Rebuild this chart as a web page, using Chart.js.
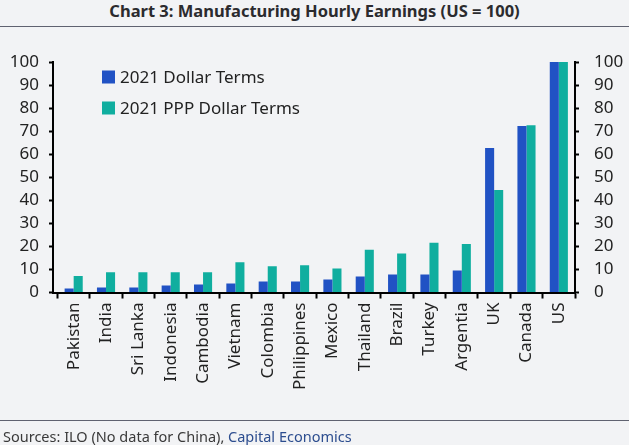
<!DOCTYPE html>
<html>
<head>
<meta charset="utf-8">
<script src="https://cdn.jsdelivr.net/npm/chart.js@4.4.1/dist/chart.umd.min.js"></script>
<style>
    html, body { margin: 0; padding: 0; background: #f2f3f5; }
    body { width: 629px; height: 445px; position: relative; overflow: hidden; font-family: "Noto Sans", sans-serif; }
    #title { position: absolute; top: 1px; left: 0; width: 629px; text-align: center; font-weight: bold; font-size: 16.5px; line-height: 20px; color: #2b2b2e; }
    #title-rule { position: absolute; top: 26px; left: 0; width: 629px; height: 0; border-top: 1.5px solid #5f6270; }
    #foot-rule { position: absolute; top: 420px; left: 0; width: 629px; height: 0; border-top: 1.5px solid #5f6270; }
    #source { position: absolute; top: 427px; left: 3px; font-size: 14.5px; line-height: 18px; color: #3a3a3a; white-space: nowrap; }
    #source span { color: #2c4d8f; }
    #chart-wrap { position: absolute; top: 0; left: 0; width: 629px; height: 445px; }
</style>
</head>
<body>
<div id="title">Chart 3: Manufacturing Hourly Earnings (US = 100)</div>
<div id="title-rule"></div>
<div id="chart-wrap"><canvas id="chart"></canvas></div>
<div id="foot-rule"></div>
<div id="source">Sources: ILO (No data for China), <span>Capital Economics</span></div>
<script>
const countries = ['Pakistan', 'India', 'Sri Lanka', 'Indonesia', 'Cambodia', 'Vietnam', 'Colombia',
    'Philippines', 'Mexico', 'Thailand', 'Brazil', 'Turkey', 'Argentia', 'UK', 'Canada', 'US'];
const dollarTerms = [1.7, 2.2, 2.2, 3.0, 3.5, 3.9, 4.8, 4.8, 5.6, 6.9, 7.8, 7.8, 9.5, 62.7, 72.2, 100];
const pppTerms = [7.2, 8.8, 8.8, 8.8, 8.8, 13.1, 11.4, 11.8, 10.4, 18.5, 16.9, 21.6, 21.1, 44.5, 72.6, 100];
const yTicks = [0, 10, 20, 30, 40, 50, 60, 70, 80, 90, 100];

(function() {
    const font = { family: 'Noto Sans', size: 17 };
    const ink = '#222';

    // legend sits inside the plot, top left
    const innerLegend = {
        id: 'innerLegend',
        afterDraw(chart) {
            const ctx = chart.ctx;
            ctx.save();
            ctx.font = '17px "Noto Sans"';
            ctx.textBaseline = 'middle';
            chart.data.datasets.forEach((ds, i) => {
                const y = 77 + i * 31;
                ctx.fillStyle = ds.backgroundColor;
                ctx.fillRect(102, y - 6.5, 13, 13);
                ctx.fillStyle = ink;
                ctx.fillText(ds.label, 120, y + 1);
            });
            ctx.restore();
        }
    };

    // categories start a few px right of the left axis line
    const categoryInset = {
        id: 'categoryInset',
        afterLayout(chart) {
            const x = chart.scales.x;
            x._startPixel += 4.5;
            x._length -= 4.5;
        }
    };

    const yAxis = (position, width) => ({
        position: position,
        min: 0,
        max: 100,
        afterBuildTicks: (axis) => { axis.ticks = yTicks.map(v => ({ value: v })); },
        afterFit: (axis) => { axis.width = width; },
        ticks: { color: ink, font: font, autoSkip: false, padding: position === 'left' ? 10 : 15 },
        grid: { drawOnChartArea: false, drawTicks: true, tickLength: 4, tickWidth: 2, tickColor: '#000' },
        border: { display: true, color: '#000', width: 2 }
    });

    new Chart(document.getElementById('chart'), {
        type: 'bar',
        data: {
            labels: countries,
            datasets: [
                { label: '2021 Dollar Terms', data: dollarTerms, backgroundColor: '#2152c4', yAxisID: 'y' },
                { label: '2021 PPP Dollar Terms', data: pppTerms, backgroundColor: '#10ae9f', yAxisID: 'y' }
            ]
        },
        options: {
            responsive: true,
            maintainAspectRatio: false,
            animation: false,
            events: [],
            layout: { padding: { top: 62, left: 10, right: 6, bottom: 51 } },
            datasets: { bar: { categoryPercentage: 0.56, barPercentage: 1 } },
            plugins: { legend: { display: false }, tooltip: { enabled: false } },
            scales: {
                x: {
                    afterFit: (axis) => { axis.paddingLeft = 0; axis.paddingRight = 0; },
                    ticks: { color: ink, font: font, minRotation: 90, maxRotation: 90, padding: 4, autoSkip: false },
                    grid: { offset: true, drawOnChartArea: false, drawTicks: true, tickLength: 6, tickWidth: 2, tickColor: '#000' },
                    border: { display: true, color: '#000', width: 2 }
                },
                y: yAxis('left', 43),
                y2: yAxis('right', 48)
            }
        },
        plugins: [categoryInset, innerLegend]
    });
})();
</script>
</body>
</html>
